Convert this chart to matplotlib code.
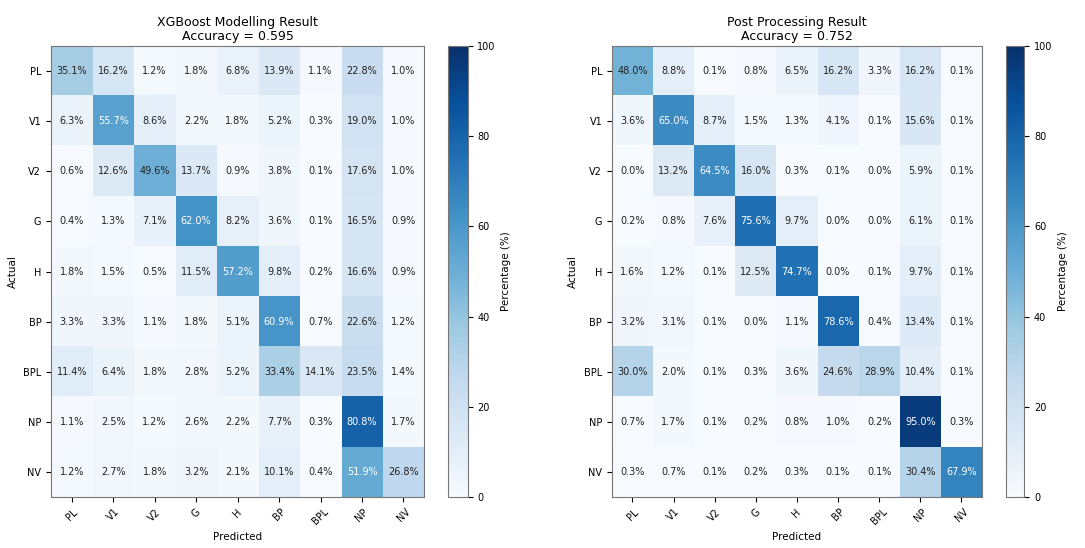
"""Confusion matrices: XGBoost vs post-processing result."""

import matplotlib
matplotlib.use("Agg")
import matplotlib.pyplot as plt
import numpy as np

classes = ["PL", "V1", "V2", "G", "H", "BP", "BPL", "NP", "NV"]

xgb_pct = [
    [35.1, 16.2, 1.2, 1.8, 6.8, 13.9, 1.1, 22.8, 1.0],
    [6.3, 55.7, 8.6, 2.2, 1.8, 5.2, 0.3, 19.0, 1.0],
    [0.6, 12.6, 49.6, 13.7, 0.9, 3.8, 0.1, 17.6, 1.0],
    [0.4, 1.3, 7.1, 62.0, 8.2, 3.6, 0.1, 16.5, 0.9],
    [1.8, 1.5, 0.5, 11.5, 57.2, 9.8, 0.2, 16.6, 0.9],
    [3.3, 3.3, 1.1, 1.8, 5.1, 60.9, 0.7, 22.6, 1.2],
    [11.4, 6.4, 1.8, 2.8, 5.2, 33.4, 14.1, 23.5, 1.4],
    [1.1, 2.5, 1.2, 2.6, 2.2, 7.7, 0.3, 80.8, 1.7],
    [1.2, 2.7, 1.8, 3.2, 2.1, 10.1, 0.4, 51.9, 26.8],
]

post_pct = [
    [48.0, 8.8, 0.1, 0.8, 6.5, 16.2, 3.3, 16.2, 0.1],
    [3.6, 65.0, 8.7, 1.5, 1.3, 4.1, 0.1, 15.6, 0.1],
    [0.0, 13.2, 64.5, 16.0, 0.3, 0.1, 0.0, 5.9, 0.1],
    [0.2, 0.8, 7.6, 75.6, 9.7, 0.0, 0.0, 6.1, 0.1],
    [1.6, 1.2, 0.1, 12.5, 74.7, 0.0, 0.1, 9.7, 0.1],
    [3.2, 3.1, 0.1, 0.0, 1.1, 78.6, 0.4, 13.4, 0.1],
    [30.0, 2.0, 0.1, 0.3, 3.6, 24.6, 28.9, 10.4, 0.1],
    [0.7, 1.7, 0.1, 0.2, 0.8, 1.0, 0.2, 95.0, 0.3],
    [0.3, 0.7, 0.1, 0.2, 0.3, 0.1, 0.1, 30.4, 67.9],
]

panels = [
    ("XGBoost Modelling Result\nAccuracy = 0.595", xgb_pct),
    ("Post Processing Result\nAccuracy = 0.752", post_pct),
]


def plot_cm(ax, cax, title, values):
    cm = np.array(values)
    im = ax.imshow(cm, cmap="Blues", vmin=0, vmax=100, aspect="auto")
    for i in range(cm.shape[0]):
        for j in range(cm.shape[1]):
            v = cm[i, j]
            ax.text(j, i, f"{v:.1f}%", ha="center", va="center", fontsize=7,
                    color="white" if v > 50 else "#222222")
    ax.set_xticks(range(len(classes)))
    ax.set_yticks(range(len(classes)))
    ax.set_xticklabels(classes, rotation=45, fontsize=7)
    ax.set_yticklabels(classes, fontsize=7)
    ax.set_xlabel("Predicted", fontsize=7.5)
    ax.set_ylabel("Actual", fontsize=7.5)
    ax.set_title(title, fontsize=9, linespacing=1.1, pad=4)
    for s in ax.spines.values():
        s.set_color("#777777")
    cb = plt.colorbar(im, cax=cax)
    cb.set_ticks([0, 20, 40, 60, 80, 100])
    cb.ax.tick_params(labelsize=7)
    cb.set_label("Percentage (%)", fontsize=7.5)
    cb.outline.set_edgecolor("#777777")


fig = plt.figure(figsize=(10.85, 5.48), dpi=100)
ax_positions = [
    ([0.047, 0.093, 0.344, 0.823], [0.413, 0.093, 0.018, 0.823]),
    ([0.564, 0.093, 0.341, 0.823], [0.927, 0.093, 0.017, 0.823]),
]
for (title, vals), (apos, cpos) in zip(panels, ax_positions):
    ax = fig.add_axes(apos)
    cax = fig.add_axes(cpos)
    plot_cm(ax, cax, title, vals)

fig.savefig("out.png", dpi=100)
plt.close(fig)
